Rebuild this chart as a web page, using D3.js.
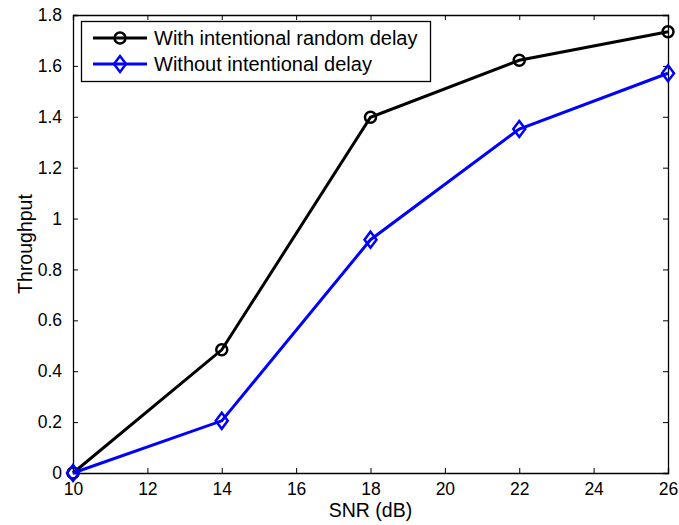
<!DOCTYPE html>
<html>
  <head>
    <style>
     body{
         margin: 0;
         background-color: white;
     }
     text{
         font-family: "Liberation Sans", Arial, Helvetica, sans-serif;
     }
    </style>
    <script src="https://d3js.org/d3.v7.min.js"></script>
    <title>Throughput vs SNR</title>
  </head>
  <body>
    <script>
    // data
    const snr = [10, 14, 18, 22, 26];
    const withDelay = [0, 0.484, 1.398, 1.622, 1.734];
    const withoutDelay = [0, 0.205, 0.917, 1.352, 1.571];
    const seriesNames = ["With intentional random delay", "Without intentional delay"];
    const xTicks = [10, 12, 14, 16, 18, 20, 22, 24, 26];
    const yTicks = [0, 0.2, 0.4, 0.6, 0.8, 1, 1.2, 1.4, 1.6, 1.8];

    const w = 679;
    const h = 525;
    const padL = 73, padR = 668, padT = 15, padB = 473;

    const svg = d3.select("body")
                  .append("svg")
                  .attr("width", w)
                  .attr("height", h);

    const xScale = d3.scaleLinear().domain([10, 26]).range([padL, padR]);
    const yScale = d3.scaleLinear().domain([0, 1.8]).range([padB, padT]);

    // axes with inward ticks on all four sides
    const fmt = d => String(+d.toFixed(1));
    svg.append("g")
       .attr("transform", "translate(0," + padB + ")")
       .call(d3.axisBottom(xScale).tickValues(xTicks).tickSize(-5).tickPadding(10).tickFormat(fmt));
    svg.append("g")
       .attr("transform", "translate(0," + padT + ")")
       .call(d3.axisTop(xScale).tickValues(xTicks).tickSize(-5).tickFormat(""));
    svg.append("g")
       .attr("transform", "translate(" + padL + ",0)")
       .call(d3.axisLeft(yScale).tickValues(yTicks).tickSize(-5).tickPadding(11).tickFormat(fmt));
    svg.append("g")
       .attr("transform", "translate(" + padR + ",0)")
       .call(d3.axisRight(yScale).tickValues(yTicks).tickSize(-5).tickFormat(""));

    svg.selectAll(".domain").attr("stroke", "black").attr("stroke-width", 1.3);
    svg.selectAll(".tick line").attr("stroke", "black");
    svg.selectAll(".tick text")
       .attr("fill", "black")
       .style("font-size", "17.5px");

    // labels
    svg.append("text")
       .attr("x", (padL + padR) / 2)
       .attr("y", 517)
       .attr("text-anchor", "middle")
       .style("font-size", "19.5px")
       .text("SNR (dB)");
    svg.append("text")
       .attr("transform", "translate(32," + 244 + ") rotate(-90)")
       .attr("text-anchor", "middle")
       .style("font-size", "19.5px")
       .text("Throughput");

    const line = d3.line()
                   .x((d, i) => xScale(snr[i]))
                   .y(d => yScale(d));

    const diamond = (cx, cy) => "M" + cx + "," + (cy - 8) + "L" + (cx + 6) + "," + cy +
                                "L" + cx + "," + (cy + 8) + "L" + (cx - 6) + "," + cy + "Z";

    // black series
    svg.append("path")
       .datum(withDelay)
       .attr("d", line)
       .attr("fill", "none")
       .attr("stroke", "black")
       .attr("stroke-width", 3);
    svg.selectAll(".circ")
       .data(withDelay)
       .enter()
       .append("circle")
       .attr("class", "circ")
       .attr("cx", (d, i) => xScale(snr[i]))
       .attr("cy", d => yScale(d))
       .attr("r", 5.5)
       .attr("fill", "none")
       .attr("stroke", "black")
       .attr("stroke-width", 2.5);

    // blue series
    svg.append("path")
       .datum(withoutDelay)
       .attr("d", line)
       .attr("fill", "none")
       .attr("stroke", "blue")
       .attr("stroke-width", 3);
    svg.selectAll(".diam")
       .data(withoutDelay)
       .enter()
       .append("path")
       .attr("class", "diam")
       .attr("d", (d, i) => diamond(xScale(snr[i]), yScale(d)))
       .attr("fill", "none")
       .attr("stroke", "blue")
       .attr("stroke-width", 2.5);

    // legend
    const lg = svg.append("g");
    lg.append("rect")
      .attr("x", 81.5).attr("y", 21.5)
      .attr("width", 349).attr("height", 60)
      .attr("fill", "white")
      .attr("stroke", "black")
      .attr("stroke-width", 1.3);
    const rows = [38, 64];
    const colors = ["black", "blue"];
    rows.forEach((ry, i) => {
      lg.append("line")
        .attr("x1", 93).attr("x2", 147)
        .attr("y1", ry).attr("y2", ry)
        .attr("stroke", colors[i])
        .attr("stroke-width", 3);
      if (i === 0) {
        lg.append("circle")
          .attr("cx", 120).attr("cy", ry).attr("r", 5.5)
          .attr("fill", "none").attr("stroke", "black").attr("stroke-width", 2.5);
      } else {
        lg.append("path")
          .attr("d", diamond(120, ry))
          .attr("fill", "none").attr("stroke", "blue").attr("stroke-width", 2.5);
      }
      lg.append("text")
        .attr("x", 154)
        .attr("y", ry + 7)
        .style("font-size", "20px")
        .text(seriesNames[i]);
    });
    </script>
  </body>
</html>
